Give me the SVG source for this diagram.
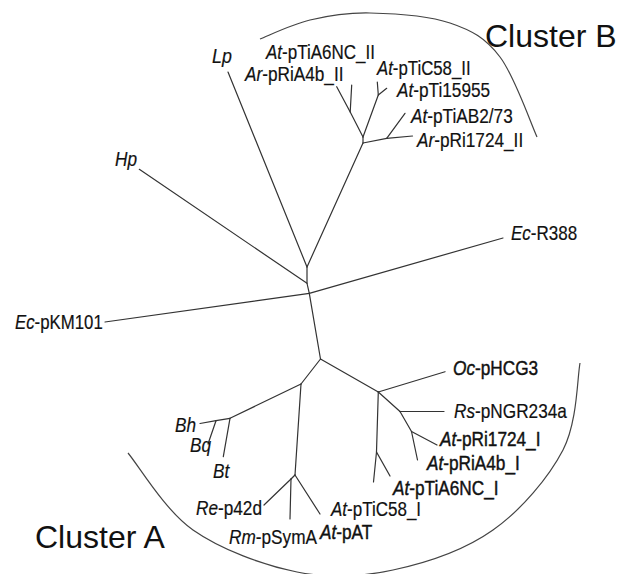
<svg xmlns="http://www.w3.org/2000/svg" width="624" height="574" viewBox="0 0 624 574">
  <style>
    .edge { fill: none; stroke: #333; stroke-width: 1.2; stroke-linecap: round; }
    .arc { fill: none; stroke: #444; stroke-width: 1.2; }
    .lbl { font-family: "Liberation Sans", Arial, sans-serif; font-size: 21px; fill: #111; stroke: #111; stroke-width: 0.2; }
    .lbl.dk { stroke-width: 0.45; }
    .sp { font-style: italic; }
    .cl { font-family: "Liberation Sans", Arial, sans-serif; font-size: 32px; fill: #111; }
  </style>
  <rect width="624" height="574" fill="#fff"/>

  <!-- cluster outlines -->
  <g id="outlines">
    <path class="arc" d="M260,39 C268.3,35.8 291.7,24.3 310,20 C328.3,15.7 346.7,12.5 370,13 C393.3,13.5 428.3,15.7 450,23 C471.7,30.3 485.5,38 500,57 C514.5,76 530.8,123.7 537,137"/>
    <path class="arc" d="M128,453 C138.8,465.8 164.8,510.2 193,530 C221.2,549.8 263.7,565.3 297,572 C330.3,578.7 360.3,577 393,570 C425.7,563 464.7,550 493,530 C521.3,510 548.5,477.8 563,450 C577.5,422.2 577.2,377.5 580,363"/>
  </g>

  <!-- tree branches -->
  <g id="connectors">
    <!-- central part -->
    <path class="edge" d="M228,72 L307,267"/>
    <path class="edge" d="M307,267 L307,283.3 L309.3,293.3"/>
    <path class="edge" d="M139.3,169.3 L307,283.3"/>
    <path class="edge" d="M105,322 L309.3,293.3"/>
    <path class="edge" d="M309.3,293.3 L503,238"/>
    <path class="edge" d="M309.3,293.3 L320.5,359"/>
    <path class="edge" d="M307,267 L363,143"/>
    <!-- cluster B -->
    <path class="edge" d="M363,143 L363,137"/>
    <path class="edge" d="M363,137 L350.2,112 L336.7,86.7"/>
    <path class="edge" d="M350.2,112 L351.7,85"/>
    <path class="edge" d="M363,137 L378.3,95"/>
    <path class="edge" d="M378.3,95 L377.3,82"/>
    <path class="edge" d="M378.3,95 L386.7,88.3"/>
    <path class="edge" d="M363,143 L386.7,138.3"/>
    <path class="edge" d="M386.7,138.3 L412.5,136"/>
    <path class="edge" d="M386.7,138.3 L405,113.3"/>
    <!-- cluster A -->
    <path class="edge" d="M320.5,359 L301,384"/>
    <path class="edge" d="M320.5,359 L378.3,392"/>
    <path class="edge" d="M301,384 L230,418.3"/>
    <path class="edge" d="M230,418.3 L223.3,456.7"/>
    <path class="edge" d="M230,418.3 L216,420.7"/>
    <path class="edge" d="M216,420.7 L200,423.5"/>
    <path class="edge" d="M216,420.7 L208,444"/>
    <path class="edge" d="M301,384 L295,475"/>
    <path class="edge" d="M295,475 L291,479"/>
    <path class="edge" d="M291,479 L264,505"/>
    <path class="edge" d="M291,479 L290,519"/>
    <path class="edge" d="M295,475 L320,514"/>
    <path class="edge" d="M378.3,392 L445,371.7"/>
    <path class="edge" d="M378.3,392 L376.5,452 L373.5,482"/>
    <path class="edge" d="M376.5,452 L390,476"/>
    <path class="edge" d="M378.3,392 L400,411.5"/>
    <path class="edge" d="M400,411.5 L444,411.5"/>
    <path class="edge" d="M400,411.5 L411.5,431.5"/>
    <path class="edge" d="M411.5,431.5 L437,445"/>
    <path class="edge" d="M411.5,431.5 L417.5,460"/>
  </g>

  <!-- leaf labels (narrowed Arial-metric text) -->
  <g id="Lp"><text class="lbl" transform="translate(212,63) scale(0.85,1)"><tspan class="sp">Lp</tspan></text></g>
  <g id="Hp"><text class="lbl" transform="translate(115,166) scale(0.82,1)"><tspan class="sp">Hp</tspan></text></g>
  <g id="Ec-pKM101"><text class="lbl" transform="translate(15,329) scale(0.8,1)"><tspan class="sp">Ec</tspan>-pKM101</text></g>
  <g id="Ec-R388"><text class="lbl" transform="translate(511,240) scale(0.81,1)"><tspan class="sp">Ec</tspan>-R388</text></g>

  <g id="At-pTiA6NC_II"><text class="lbl" transform="translate(266,59) scale(0.81,1)"><tspan class="sp">At</tspan>-pTiA6NC_II</text></g>
  <g id="Ar-pRiA4b_II"><text class="lbl" transform="translate(245,81) scale(0.82,1)"><tspan class="sp">Ar</tspan>-pRiA4b_II</text></g>
  <g id="At-pTiC58_II"><text class="lbl" transform="translate(377,75) scale(0.8,1)"><tspan class="sp">At</tspan>-pTiC58_II</text></g>
  <g id="At-pTi15955"><text class="lbl" transform="translate(397,97) scale(0.82,1)"><tspan class="sp">At</tspan>-pTi15955</text></g>
  <g id="At-pTiAB2-73"><text class="lbl" transform="translate(411,123) scale(0.82,1)"><tspan class="sp">At</tspan>-pTiAB2/73</text></g>
  <g id="Ar-pRi1724_II"><text class="lbl" transform="translate(417,147) scale(0.82,1)"><tspan class="sp">Ar</tspan>-pRi1724_II</text></g>

  <g id="Oc-pHCG3"><text class="lbl dk" transform="translate(453,375) scale(0.82,1)"><tspan class="sp">Oc</tspan>-pHCG3</text></g>
  <g id="Rs-pNGR234a"><text class="lbl" transform="translate(454,418) scale(0.82,1)"><tspan class="sp">Rs</tspan>-pNGR234a</text></g>
  <g id="At-pRi1724_I"><text class="lbl dk" transform="translate(440,446) scale(0.82,1)"><tspan class="sp">At</tspan>-pRi1724_I</text></g>
  <g id="At-pRiA4b_I"><text class="lbl dk" transform="translate(427,470) scale(0.82,1)"><tspan class="sp">At</tspan>-pRiA4b_I</text></g>
  <g id="At-pTiA6NC_I"><text class="lbl dk" transform="translate(393,495) scale(0.82,1)"><tspan class="sp">At</tspan>-pTiA6NC_I</text></g>
  <g id="At-pTiC58_I"><text class="lbl" transform="translate(331,516) scale(0.81,1)"><tspan class="sp">At</tspan>-pTiC58_I</text></g>
  <g id="At-pAT"><text class="lbl dk" transform="translate(320,538.5) scale(0.82,1)"><tspan class="sp">At</tspan>-pAT</text></g>
  <g id="Rm-pSymA"><text class="lbl" transform="translate(229,544) scale(0.82,1)"><tspan class="sp">Rm</tspan>-pSymA</text></g>
  <g id="Re-p42d"><text class="lbl" transform="translate(196,515) scale(0.82,1)"><tspan class="sp">Re</tspan>-p42d</text></g>
  <g id="Bh"><text class="lbl" transform="translate(175,431.5) scale(0.82,1)"><tspan class="sp">Bh</tspan></text></g>
  <g id="Bq"><text class="lbl" transform="translate(190,451.5) scale(0.82,1)"><tspan class="sp">Bq</tspan></text></g>
  <g id="Bt"><text class="lbl" transform="translate(213,478) scale(0.82,1)"><tspan class="sp">Bt</tspan></text></g>

  <!-- cluster captions -->
  <g id="cluster-B"><text class="cl" x="485" y="47">Cluster B</text></g>
  <g id="cluster-A"><text class="cl" x="35" y="548">Cluster A</text></g>
</svg>
